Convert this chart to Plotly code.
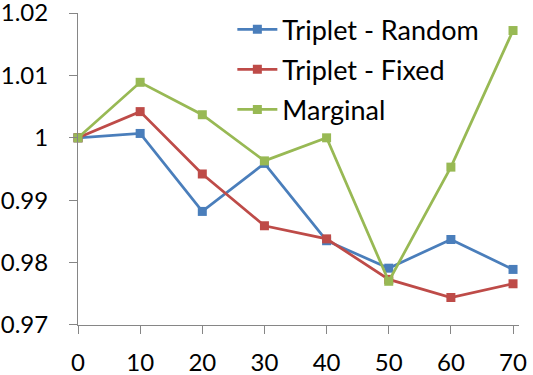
import plotly.graph_objects as go

x_vals = [0, 10, 20, 30, 40, 50, 60, 70]
triplet_random = [1.0000, 1.0007, 0.9882, 0.9959, 0.9835, 0.9791, 0.9837, 0.9789]
triplet_fixed = [1.0000, 1.0042, 0.9942, 0.9859, 0.9838, 0.9773, 0.9744, 0.9766]
marginal = [1.0000, 1.0089, 1.0037, 0.9963, 1.0000, 0.9770, 0.9953, 1.0172]

series_names = ["Triplet - Random", "Triplet - Fixed", "Marginal"]
series_colors = ["#4A7EBB", "#BE4B48", "#98B954"]

y_tickvals = [0.97, 0.98, 0.99, 1.00, 1.01, 1.02]
y_ticktext = ["0.97", "0.98", "0.99", "1", "1.01", "1.02"]
x_tickvals = [0, 10, 20, 30, 40, 50, 60, 70]

FONT = "Lato, Carlito, Calibri, sans-serif"

fig = go.Figure()
for i, (name, vals, col) in enumerate(zip(series_names, [triplet_random, triplet_fixed, marginal], series_colors)):
    fig.add_trace(go.Scatter(
        x=x_vals, y=vals, name=name, mode="lines+markers",
        line=dict(color=col, width=2.75),
        marker=dict(symbol="square", size=9, color=col),
        legendgroup=f"g{i}",
        cliponaxis=False,
    ))

fig.update_layout(
    width=533, height=375,
    margin=dict(l=78, r=14, t=13, b=50, autoexpand=False),
    paper_bgcolor="white", plot_bgcolor="white",
    font=dict(family=FONT, size=24, color="black"),
    showlegend=True,
    legend=dict(
        x=0.35, y=1.025, xanchor="left", yanchor="top",
        bgcolor="rgba(0,0,0,0)", borderwidth=0,
        font=dict(family=FONT, size=27, color="black"),
        traceorder="grouped", tracegroupgap=2,
        itemwidth=40,
    ),
    xaxis=dict(
        range=[0, 70.96], tickvals=x_tickvals, automargin=False,
        showgrid=False, zeroline=False,
        showline=True, linecolor="#868686", linewidth=1,
        ticks="outside", ticklen=8, tickcolor="#868686",
        ticklabelstandoff=8, ticklabeloverflow="allow",
        tickfont=dict(family=FONT, size=24, color="black"),
    ),
    yaxis=dict(
        range=[0.96999, 1.02001], tickvals=y_tickvals, ticktext=y_ticktext, automargin=False,
        showgrid=False, zeroline=False,
        showline=True, linecolor="#868686", linewidth=1,
        ticks="outside", ticklen=8, tickcolor="#868686",
        ticklabelstandoff=16, ticklabeloverflow="allow",
        tickfont=dict(family=FONT, size=24, color="black"),
    ),
)

fig.write_html(
    "out.html",
    config={"displayModeBar": False},
    post_script="document.body.style.margin='0';document.body.style.overflow='hidden';",
)
